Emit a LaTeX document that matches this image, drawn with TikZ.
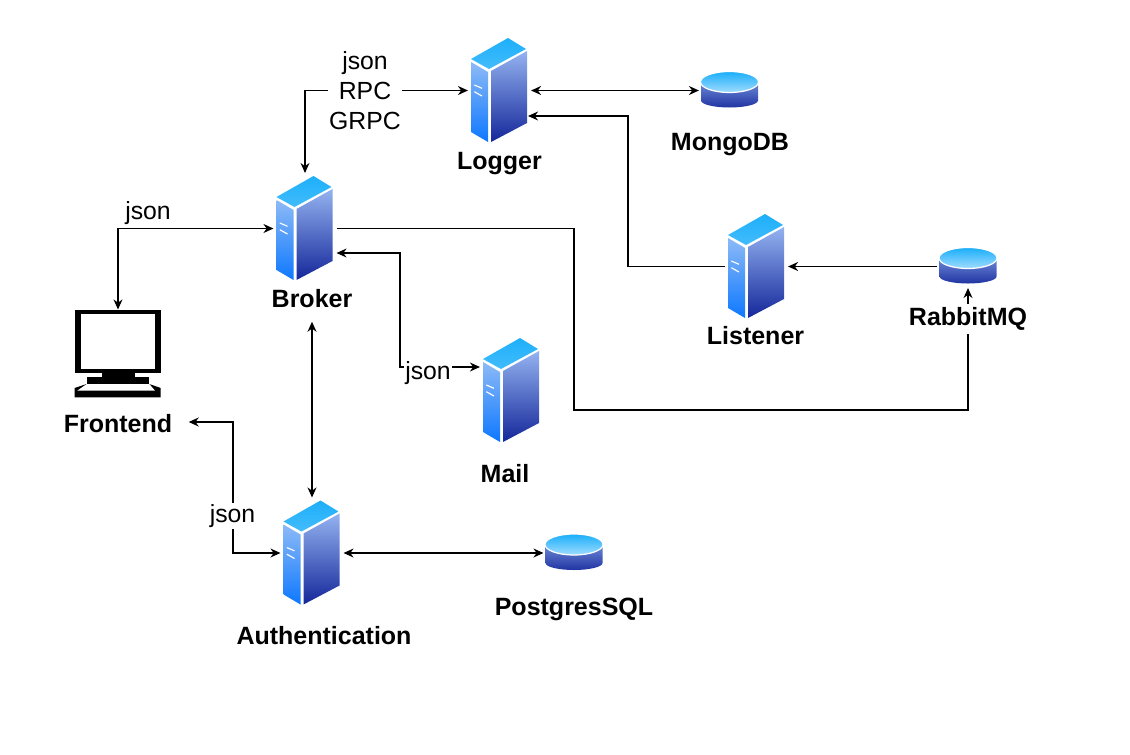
\documentclass[tikz,border=0pt]{standalone}
\usepackage{fontspec}
\setmainfont{Liberation Sans}
\usetikzlibrary{arrows.meta}

\definecolor{topLight}{HTML}{A0DCFF}
\definecolor{topDark}{HTML}{1AAEFA}
\definecolor{sideLight}{HTML}{8DBAF6}
\definecolor{sideDark}{HTML}{0D78FF}
\definecolor{faceLight}{HTML}{94B3F0}
\definecolor{faceDark}{HTML}{14279A}

\begin{document}
\begin{tikzpicture}[
        x=1pt, y=-1pt,
        line width=1.15pt,
        >={Stealth[length=10pt,width=9pt]},
        every node/.style={font=\fontsize{24.8}{30}\selectfont},
        caption/.style={font=\fontsize{25}{30}\selectfont\bfseries, inner sep=3pt},
        tag/.style={fill=white, inner sep=1pt, align=center},
        server/.style={minimum width=62pt, minimum height=110pt, inner sep=0pt, path picture={
                \shade[top color=topDark, bottom color=topLight] (-28.5,-31.5) -- (8.5,-52.5) -- (26.5,-41.5) -- (-10.5,-21.5) -- cycle;
                \shade[top color=sideLight, bottom color=sideDark] (-28.5,-28.5) -- (-11.5,-18.5) -- (-11.5,51.5) -- (-28.5,41.5) -- cycle;
                \shade[top color=faceLight, bottom color=faceDark] (-8.5,-19.5) -- (27.5,-39.5) -- (27.5,32.5) -- (-8.5,51.5) -- cycle;
                \draw[white] (-25.2,-5.5) -- (-17.5,-2.2) (-25.2,1.2) -- (-17.5,5.5);
        }},
        database/.style={minimum width=60pt, minimum height=42pt, inner sep=0pt, path picture={
                \shade[top color=faceLight, bottom color=faceDark] (-28.5,-8) -- (-28.5,10) arc[start angle=180, end angle=0, x radius=28.5, y radius=7] -- (28.5,-8) -- cycle;
                \shade[top color=topDark, bottom color=topLight, draw=white, line width=1.2pt] (0,-8.5) ellipse[x radius=29, y radius=10.5];
        }},
        monitor/.style={minimum width=88pt, minimum height=88pt, inner sep=0pt, path picture={
                \fill[black] (-43.3,-44) rectangle (42.7,19);
                \fill[white] (-37.3,-40) rectangle (37,15);
                \fill[black] (-16.3,19) rectangle (17,23);
                \fill[black] (-31.3,23) rectangle (31.3,30);
                \fill[black] (-31.3,30) -- (31.3,30) -- (42.7,34) -- (42.7,43.3) -- (-43.3,43.3) -- (-43.3,34) -- cycle;
                \fill[white] (-31.3,30) -- (31.3,30) -- (37,36.7) -- (-40.7,36.7) -- cycle;
        }}
]
        \useasboundingbox (0,0) rectangle (1130,755);

        % Services
        \node[server] (logger) at (499.5,90.5) {};
        \node[server] (broker) at (305,228.5) {};
        \node[server] (listener) at (756.5,266.5) {};
        \node[server] (mail) at (511.5,390.5) {};
        \node[server] (auth) at (312,553) {};

        % Databases and queue
        \node[database] (mongo) at (729.5,90.5) {};
        \node[database] (rabbit) at (968,266.5) {};
        \node[database] (postgres) at (574,553) {};

        % Client
        \node[monitor] (frontend) at (118,354) {};

        % Captions below the icons
        \node[caption] (loggerName) at (499.5,164) {Logger};
        \node[caption] (mongoName) at (730,145) {MongoDB};
        \node[caption] (brokerName) at (312,299) {Broker};
        \node[caption] (listenerName) at (755.5,336) {Listener};
        \node[caption] (frontendName) at (118,424) {Frontend};
        \node[caption] (mailName) at (505,474) {Mail};
        \node[caption] (authName) at (324,636) {Authentication};
        \node[caption] (postgresName) at (574,609) {PostgresSQL};

        % Turning points
        \coordinate (busCorner) at (574,410);
        \coordinate (listenerTurn) at (628,200);
        \coordinate (mailTurn) at (400,300);
        \coordinate (authTurn) at (233,500);

        % Connections
        \draw[<->] (logger.west) -| (broker.north);
        \draw[<->] (logger.east) -- (mongo.west);
        \draw[<->] (broker.west) -| (frontend.north);
        \draw[<->] ([yshift=-24.5pt]broker.east) -| (mailTurn) |- ([yshift=23.5pt]mail.west);
        \draw[->] (broker.east) -| (busCorner) -| (rabbit.south);
        \draw[->] (rabbit.west) -- (listener.east);
        \draw[->] (listener.west) -| (listenerTurn) |- ([xshift=-3pt,yshift=-25.5pt]logger.east);
        \draw[<->, shorten <=10pt] (brokerName.south) -- (auth.north);
        \draw[<->] (auth.west) -| (authTurn) |- ([xshift=13pt,yshift=2pt]frontendName.east);
        \draw[<->] (auth.east) -- (postgres.west);

        % Labels on the lines
        \node[tag] (rpcTag) at (365,90.5) {json\\RPC\\GRPC};
        \node[tag] (frontendTag) at (148,213) {json};
        \node[tag] (mailTag) at (428,373) {json};
        \node[tag] (authTag) at (232.5,516) {json};
        \node[caption, fill=white] (rabbitName) at (968,319) {RabbitMQ};
\end{tikzpicture}
\end{document}
